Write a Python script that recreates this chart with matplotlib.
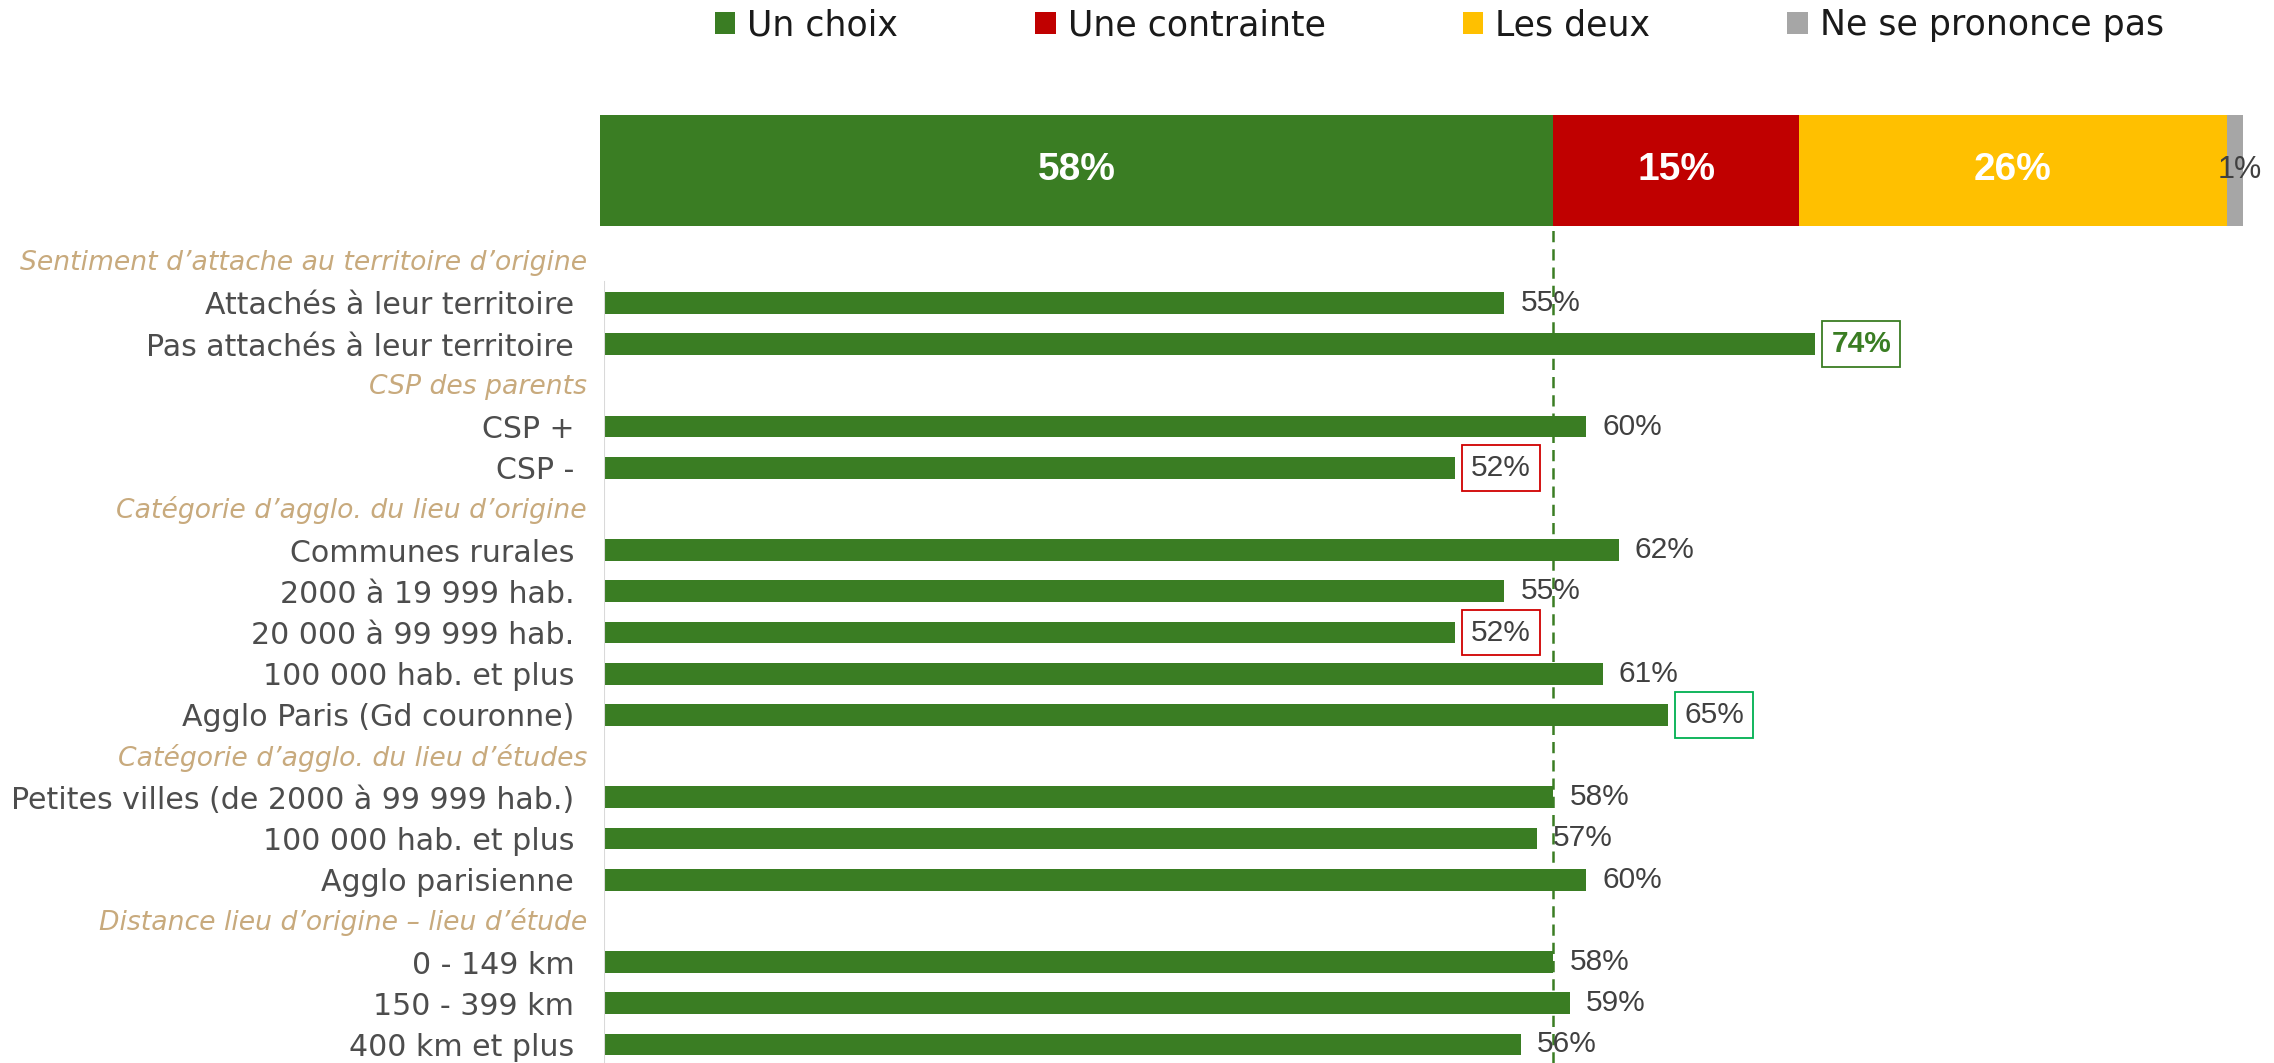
import matplotlib
matplotlib.use('Agg')
import matplotlib.pyplot as plt
from matplotlib.patches import Patch

W, H, DPI = 2274, 1063, 100

# ---- data ----
overall_labels = ['Un choix', 'Une contrainte', 'Les deux', 'Ne se prononce pas']
overall_values = [58, 15, 26, 1]
overall_colors = ['#3A7D23', '#C00000', '#FFC000', '#A6A6A6']
overall_text_colors = ['white', 'white', 'white', '#404040']

group_titles = ["Sentiment d’attache au territoire d’origine",
                "CSP des parents",
                "Catégorie d’agglo. du lieu d’origine",
                "Catégorie d’agglo. du lieu d’études",
                "Distance lieu d’origine – lieu d’étude"]
group_sizes = [2, 2, 5, 3, 3]
item_labels = ["Attachés à leur territoire", "Pas attachés à leur territoire",
               "CSP +", "CSP -",
               "Communes rurales", "2000 à 19 999 hab.", "20 000 à 99 999 hab.",
               "100 000 hab. et plus", "Agglo Paris (Gd couronne)",
               "Petites villes (de 2000 à 99 999 hab.)", "100 000 hab. et plus",
               "Agglo parisienne",
               "0 - 149 km", "150 - 399 km", "400 km et plus"]
item_values = [55, 74, 60, 52, 62, 55, 52, 61, 65, 58, 57, 60, 58, 59, 56]
item_marks = ['', 'high', '', 'low', '', '', 'low', '', 'up', '', '', '', '', '', '']

GREEN = '#3A7D23'
TAN = '#C8AA7D'
TXT = '#404040'
LABEL_TXT = '#4D4D4D'

# ---- rows ----
header_rows, item_rows = [], []
r = 0
for n in group_sizes:
    header_rows.append(r)
    r += 1
    for _ in range(n):
        item_rows.append(r)
        r += 1

fig = plt.figure(figsize=(W / DPI, H / DPI), dpi=DPI)

# ---- top stacked bar ----
ax_top = fig.add_axes([600 / W, 1 - 226 / H, 1643 / W, 111 / H])
left = 0
for v, c, tc in zip(overall_values, overall_colors, overall_text_colors):
    ax_top.barh(0, v, left=left, color=c, height=1.0)
    if v >= 5:
        ax_top.text(left + v / 2, 0, f'{v}%', ha='center', va='center', color=tc,
                    fontsize=28, fontweight='bold', family='Liberation Sans')
    else:
        ax_top.text(left + v / 2 + 0.3, 0, f'{v}%', ha='center', va='center', color=tc,
                    fontsize=22, family='Liberation Sans')
    left += v
ax_top.set_xlim(0, 100)
ax_top.set_ylim(-0.5, 0.5)
ax_top.axis('off')

# ---- lower bars ----
ax = fig.add_axes([604 / W, 0, 1637 / W, 837 / H])
ax.set_xlim(0, 100)
ax.set_ylim(19.45, -0.869)
ax.barh(item_rows, item_values, height=0.53, color=GREEN)
for s in ax.spines.values():
    s.set_visible(False)
ax.axvline(0, ymin=0, ymax=0.933, color='#D9D9D9', lw=1.5)
ax.axvline(overall_values[0], color=GREEN, lw=1.8, ls=(0, (4.5, 2.8)), clip_on=False)
ax.set_xticks([])
ax.set_yticks(item_rows, item_labels)
ax.tick_params(axis='y', left=False, pad=18, labelsize=21.6, labelcolor=LABEL_TXT)

for t, row in zip(group_titles, header_rows):
    ax.annotate(t, xy=(0, row), xycoords=ax.get_yaxis_transform(), xytext=(-12.2, -1),
                textcoords='offset points', ha='right', va='center', color=TAN,
                fontsize=19.2, fontstyle='italic')

box_colors = {'high': GREEN, 'low': '#D00000', 'up': '#00B050'}
for v, row, m in zip(item_values, item_rows, item_marks):
    kw = dict(fontsize=21.5, family='Liberation Sans', color=TXT)
    if m:
        kw['bbox'] = dict(boxstyle='square,pad=0.3', fc='white', ec=box_colors[m], lw=1.3)
    if m == 'high':
        kw['color'] = GREEN
        kw['fontweight'] = 'bold'
    ax.annotate(f'{v}%', xy=(v, row), xytext=(11.5, 0), textcoords='offset points',
                ha='left', va='center', **kw)

# ---- legend ----
handles = [Patch(facecolor=c, edgecolor='none') for c in overall_colors]
fig.legend(handles, overall_labels, loc='center left', bbox_to_anchor=(715 / W, 1 - 25 / H),
           ncol=4, frameon=False, fontsize=25, handlelength=0.58, handleheight=0.6,
           handletextpad=0.35, columnspacing=3.95, borderpad=0, borderaxespad=0,
           labelcolor='#1A1A1A')

fig.savefig('out.png', dpi=DPI)
